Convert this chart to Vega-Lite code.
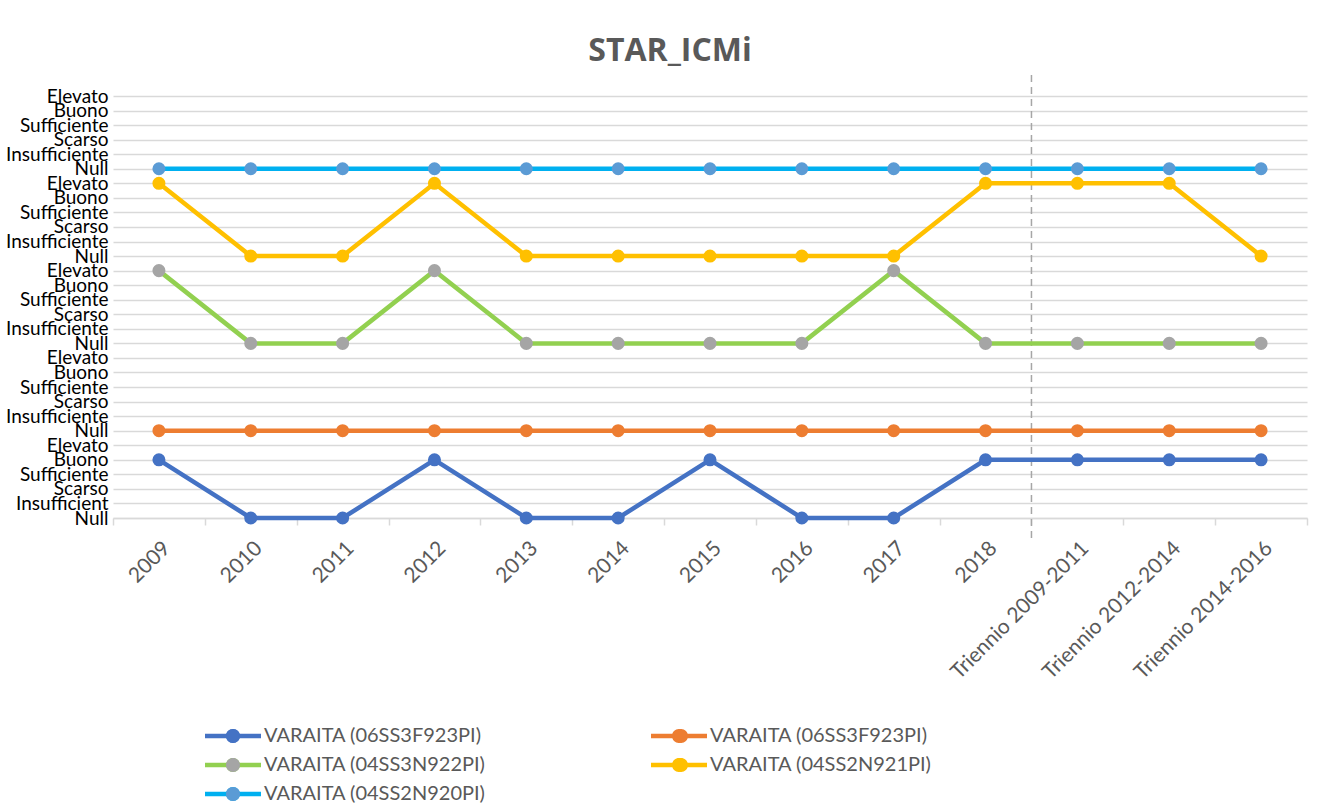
{
  "$schema": "https://vega.github.io/schema/vega-lite/v6.json",
  "autosize": "none",
  "width": 1194,
  "height": 422,
  "padding": {"left": 113, "top": 96, "right": 36, "bottom": 294},
  "background": "white",
  "config": {
    "view": {"stroke": null},
    "font": "Lato"
  },
  "title": {
    "text": "STAR_ICMi",
    "fontSize": 32,
    "fontWeight": "bold",
    "color": "#595959",
    "font": "Open Sans",
    "anchor": "middle",
    "dx": -40,
    "offset": 6
  },
  "datasets": {
    "serie": [
      {"serie": "VARAITA (06SS3F923PI)", "periodo": "2009", "livello": 4},
      {"serie": "VARAITA (06SS3F923PI)", "periodo": "2010", "livello": 0},
      {"serie": "VARAITA (06SS3F923PI)", "periodo": "2011", "livello": 0},
      {"serie": "VARAITA (06SS3F923PI)", "periodo": "2012", "livello": 4},
      {"serie": "VARAITA (06SS3F923PI)", "periodo": "2013", "livello": 0},
      {"serie": "VARAITA (06SS3F923PI)", "periodo": "2014", "livello": 0},
      {"serie": "VARAITA (06SS3F923PI)", "periodo": "2015", "livello": 4},
      {"serie": "VARAITA (06SS3F923PI)", "periodo": "2016", "livello": 0},
      {"serie": "VARAITA (06SS3F923PI)", "periodo": "2017", "livello": 0},
      {"serie": "VARAITA (06SS3F923PI)", "periodo": "2018", "livello": 4},
      {"serie": "VARAITA (06SS3F923PI)", "periodo": "Triennio 2009-2011", "livello": 4},
      {"serie": "VARAITA (06SS3F923PI)", "periodo": "Triennio 2012-2014", "livello": 4},
      {"serie": "VARAITA (06SS3F923PI)", "periodo": "Triennio 2014-2016", "livello": 4},
      {"serie": "VARAITA (06SS3F923PI) ", "periodo": "2009", "livello": 6},
      {"serie": "VARAITA (06SS3F923PI) ", "periodo": "2010", "livello": 6},
      {"serie": "VARAITA (06SS3F923PI) ", "periodo": "2011", "livello": 6},
      {"serie": "VARAITA (06SS3F923PI) ", "periodo": "2012", "livello": 6},
      {"serie": "VARAITA (06SS3F923PI) ", "periodo": "2013", "livello": 6},
      {"serie": "VARAITA (06SS3F923PI) ", "periodo": "2014", "livello": 6},
      {"serie": "VARAITA (06SS3F923PI) ", "periodo": "2015", "livello": 6},
      {"serie": "VARAITA (06SS3F923PI) ", "periodo": "2016", "livello": 6},
      {"serie": "VARAITA (06SS3F923PI) ", "periodo": "2017", "livello": 6},
      {"serie": "VARAITA (06SS3F923PI) ", "periodo": "2018", "livello": 6},
      {"serie": "VARAITA (06SS3F923PI) ", "periodo": "Triennio 2009-2011", "livello": 6},
      {"serie": "VARAITA (06SS3F923PI) ", "periodo": "Triennio 2012-2014", "livello": 6},
      {"serie": "VARAITA (06SS3F923PI) ", "periodo": "Triennio 2014-2016", "livello": 6},
      {"serie": "VARAITA (04SS3N922PI)", "periodo": "2009", "livello": 17},
      {"serie": "VARAITA (04SS3N922PI)", "periodo": "2010", "livello": 12},
      {"serie": "VARAITA (04SS3N922PI)", "periodo": "2011", "livello": 12},
      {"serie": "VARAITA (04SS3N922PI)", "periodo": "2012", "livello": 17},
      {"serie": "VARAITA (04SS3N922PI)", "periodo": "2013", "livello": 12},
      {"serie": "VARAITA (04SS3N922PI)", "periodo": "2014", "livello": 12},
      {"serie": "VARAITA (04SS3N922PI)", "periodo": "2015", "livello": 12},
      {"serie": "VARAITA (04SS3N922PI)", "periodo": "2016", "livello": 12},
      {"serie": "VARAITA (04SS3N922PI)", "periodo": "2017", "livello": 17},
      {"serie": "VARAITA (04SS3N922PI)", "periodo": "2018", "livello": 12},
      {"serie": "VARAITA (04SS3N922PI)", "periodo": "Triennio 2009-2011", "livello": 12},
      {"serie": "VARAITA (04SS3N922PI)", "periodo": "Triennio 2012-2014", "livello": 12},
      {"serie": "VARAITA (04SS3N922PI)", "periodo": "Triennio 2014-2016", "livello": 12},
      {"serie": "VARAITA (04SS2N921PI)", "periodo": "2009", "livello": 23},
      {"serie": "VARAITA (04SS2N921PI)", "periodo": "2010", "livello": 18},
      {"serie": "VARAITA (04SS2N921PI)", "periodo": "2011", "livello": 18},
      {"serie": "VARAITA (04SS2N921PI)", "periodo": "2012", "livello": 23},
      {"serie": "VARAITA (04SS2N921PI)", "periodo": "2013", "livello": 18},
      {"serie": "VARAITA (04SS2N921PI)", "periodo": "2014", "livello": 18},
      {"serie": "VARAITA (04SS2N921PI)", "periodo": "2015", "livello": 18},
      {"serie": "VARAITA (04SS2N921PI)", "periodo": "2016", "livello": 18},
      {"serie": "VARAITA (04SS2N921PI)", "periodo": "2017", "livello": 18},
      {"serie": "VARAITA (04SS2N921PI)", "periodo": "2018", "livello": 23},
      {"serie": "VARAITA (04SS2N921PI)", "periodo": "Triennio 2009-2011", "livello": 23},
      {"serie": "VARAITA (04SS2N921PI)", "periodo": "Triennio 2012-2014", "livello": 23},
      {"serie": "VARAITA (04SS2N921PI)", "periodo": "Triennio 2014-2016", "livello": 18},
      {"serie": "VARAITA (04SS2N920PI)", "periodo": "2009", "livello": 24},
      {"serie": "VARAITA (04SS2N920PI)", "periodo": "2010", "livello": 24},
      {"serie": "VARAITA (04SS2N920PI)", "periodo": "2011", "livello": 24},
      {"serie": "VARAITA (04SS2N920PI)", "periodo": "2012", "livello": 24},
      {"serie": "VARAITA (04SS2N920PI)", "periodo": "2013", "livello": 24},
      {"serie": "VARAITA (04SS2N920PI)", "periodo": "2014", "livello": 24},
      {"serie": "VARAITA (04SS2N920PI)", "periodo": "2015", "livello": 24},
      {"serie": "VARAITA (04SS2N920PI)", "periodo": "2016", "livello": 24},
      {"serie": "VARAITA (04SS2N920PI)", "periodo": "2017", "livello": 24},
      {"serie": "VARAITA (04SS2N920PI)", "periodo": "2018", "livello": 24},
      {"serie": "VARAITA (04SS2N920PI)", "periodo": "Triennio 2009-2011", "livello": 24},
      {"serie": "VARAITA (04SS2N920PI)", "periodo": "Triennio 2012-2014", "livello": 24},
      {"serie": "VARAITA (04SS2N920PI)", "periodo": "Triennio 2014-2016", "livello": 24}
    ],
    "separatore": [
      {"periodo": "Triennio 2009-2011", "livello": 30.45, "basso": -1.5}
    ]
  },
  "encoding": {
    "x": {
      "field": "periodo", "type": "nominal", "bandPosition": 0.5,
      "sort": null,
      "scale": {"type": "band", "paddingInner": 0, "paddingOuter": 0,
        "domain": ["2009","2010","2011","2012","2013","2014","2015","2016","2017","2018","Triennio 2009-2011","Triennio 2012-2014","Triennio 2014-2016"]},
      "axis": {
        "title": null,
        "labelAngle": -45,
        "labelFontSize": 21,
        "labelColor": "#595959",
        "labelPadding": 12,
        "tickBand": "extent",
        "tickSize": 7,
        "tickColor": "#D9D9D9",
        "domainColor": "#D9D9D9",
        "domainWidth": 1.5,
        "tickWidth": 1.5,
        "grid": false,
        "labelLimit": 300
      }
    },
    "y": {
      "field": "livello", "type": "quantitative",
      "scale": {"domain": [0, 29], "nice": false, "zero": false},
      "axis": {
        "title": null,
        "values": [0,1,2,3,4,5,6,7,8,9,10,11,12,13,14,15,16,17,18,19,20,21,22,23,24,25,26,27,28,29],
        "labelExpr": "['Null','Insufficient','Scarso','Sufficiente','Buono','Elevato','Null','Insufficiente','Scarso','Sufficiente','Buono','Elevato','Null','Insufficiente','Scarso','Sufficiente','Buono','Elevato','Null','Insufficiente','Scarso','Sufficiente','Buono','Elevato','Null','Insufficiente','Scarso','Sufficiente','Buono','Elevato'][datum.value]",
        "labelFontSize": 19,
        "labelColor": "#000000",
        "labelPadding": 5,
        "ticks": false,
        "domain": false,
        "grid": true,
        "gridColor": "#D9D9D9",
        "gridWidth": 1.5,
        "labelOverlap": false,
        "labelBound": false,
        "labelFlush": false
      }
    }
  },
  "layer": [
    {
      "data": {"name": "separatore"},
      "mark": {"type": "rule", "color": "#A6A6A6", "strokeWidth": 1.5, "strokeDash": [7, 5]},
      "encoding": {
        "x": {"field": "periodo", "type": "nominal", "bandPosition": 0},
        "y2": {"field": "basso"}
      }
    },
    {
      "data": {"name": "serie"},
      "mark": {"type": "line", "strokeWidth": 4.5},
      "encoding": {
        "color": {
          "field": "serie", "type": "nominal",
          "scale": {
            "domain": ["VARAITA (06SS3F923PI)", "VARAITA (06SS3F923PI) ", "VARAITA (04SS3N922PI)", "VARAITA (04SS2N921PI)", "VARAITA (04SS2N920PI)"],
            "range": ["#4472C4", "#ED7D31", "#92D050", "#FFC000", "#00B0F0"]
          },
          "legend": null
        }
      }
    },
    {
      "data": {"name": "serie"},
      "mark": {"type": "point", "filled": true, "size": 1, "opacity": 0},
      "encoding": {
        "color": {
          "field": "serie", "type": "nominal",
          "scale": {
            "domain": ["VARAITA (06SS3F923PI)", "VARAITA (06SS3F923PI) ", "VARAITA (04SS3N922PI)", "VARAITA (04SS2N921PI)", "VARAITA (04SS2N920PI)"],
            "range": ["#4472C4", "#ED7D31", "#92D050", "#FFC000", "#00B0F0"]
          },
          "legend": {
            "title": null,
            "orient": "none",
            "legendX": 92,
            "legendY": 626,
            "direction": "horizontal",
            "columns": 2,
            "columnPadding": 165,
            "rowPadding": 5,
            "padding": 0,
            "symbolType": "M-1,-0.16H3V0.16H-1Z M0.5,0A0.5,0.5 0 1,1 1.5,0A0.5,0.5 0 1,1 0.5,0Z",
            "symbolSize": 784,
            "symbolStrokeWidth": 0,
            "symbolOpacity": 1,
            "labelOffset": 31,
            "labelFontSize": 20,
            "labelColor": "#595959",
            "labelLimit": 400
          }
        }
      }
    },
    {
      "data": {"name": "serie"},
      "mark": {"type": "point", "filled": true, "size": 170, "opacity": 1},
      "encoding": {
        "color": {
          "field": "serie", "type": "nominal",
          "scale": {
            "domain": ["VARAITA (06SS3F923PI)", "VARAITA (06SS3F923PI) ", "VARAITA (04SS3N922PI)", "VARAITA (04SS2N921PI)", "VARAITA (04SS2N920PI)"],
            "range": ["#4472C4", "#ED7D31", "#A5A5A5", "#FFC000", "#5B9BD5"]
          },
          "legend": {
            "title": null,
            "orient": "none",
            "legendX": 92,
            "legendY": 626,
            "direction": "horizontal",
            "columns": 2,
            "columnPadding": 389,
            "rowPadding": 5,
            "padding": 0,
            "symbolType": "M-1,-0.16H3V0.16H-1Z M-1,-0.16V0.16H3V-0.16Z M0.5,0A0.5,0.5 0 1,1 1.5,0A0.5,0.5 0 1,1 0.5,0Z",
            "symbolSize": 784,
            "symbolStrokeWidth": 0,
            "symbolOpacity": 1,
            "labelOffset": 31,
            "labelFontSize": 20,
            "labelColor": "#595959",
            "labelExpr": "' '",
            "labelLimit": 400
          }
        }
      }
    }
  ],
  "resolve": {"scale": {"color": "independent"}}
}
